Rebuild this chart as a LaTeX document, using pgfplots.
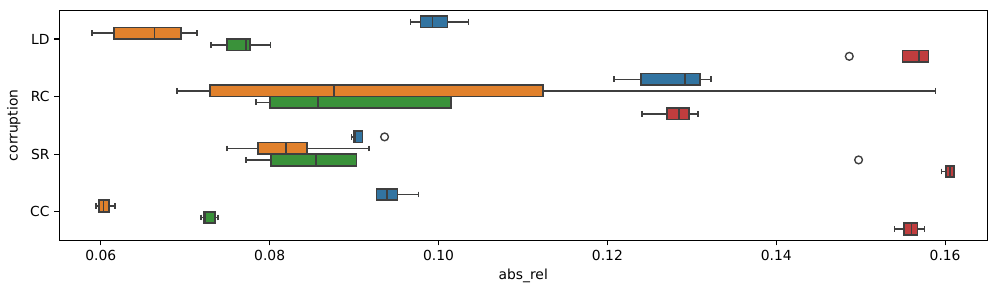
\documentclass[border=0pt]{standalone}
\usepackage{fontspec}
\setmainfont{DejaVu Sans}
\usepackage{pgfplots}
\pgfplotsset{compat=1.18}
\usepgfplotslibrary{statistics}
\definecolor{cblue}{RGB}{50,116,161}
\definecolor{corange}{RGB}{225,129,44}
\definecolor{cgreen}{RGB}{58,146,58}
\definecolor{cred}{RGB}{192,61,62}
\definecolor{lc}{RGB}{63,63,63}
\pgfplotsset{
  bx/.style={draw=lc, line width=1.2pt, solid, mark=none, fill=#1,
    boxplot/every box/.style={draw=lc, line width=1.2pt, fill=#1},
    boxplot/every whisker/.style={draw=lc, line width=1.2pt},
    boxplot/every median/.style={draw=lc, line width=1.2pt}},
}
\begin{document}
\begin{tikzpicture}
\begin{axis}[
  scale only axis, width=669.6pt, height=166.1pt,
  xmin=0.05507, xmax=0.1650, ymin=-0.5, ymax=3.5, y dir=reverse,
  xtick={0.06,0.08,0.10,0.12,0.14,0.16},
  xticklabel style={/pgf/number format/.cd, fixed, fixed zerofill, precision=2},
  ytick={0,1,2,3}, yticklabels={LD,RC,SR,CC},
  xtick pos=lower, ytick pos=left,
  tick align=outside, major tick length=3.5pt,
  tick style={black, line width=0.8pt},
  axis line style={line width=0.8pt},
  font=\fontsize{10}{12}\selectfont,
  /pgf/number format/assume math mode=true,
  xlabel={abs\_rel}, ylabel={corruption},
  xlabel style={at={(axis description cs:0.5,-0.1517)}, anchor=center},
  ylabel style={at={(axis description cs:-0.0488,0.5)}, anchor=center},
  boxplot/draw direction=x,
  clip=false,
]
% LD
\addplot[bx=cblue, boxplot prepared={draw position=-0.3, lower whisker=0.09668, lower quartile=0.09786, median=0.09928, upper quartile=0.10105, upper whisker=0.10353, box extend=0.2, whisker extend=0.1}] coordinates {};
\addplot[bx=corange, boxplot prepared={draw position=-0.1, lower whisker=0.05897, lower quartile=0.06157, median=0.06635, upper quartile=0.06949, upper whisker=0.07138, box extend=0.2, whisker extend=0.1}] coordinates {};
\addplot[bx=cgreen, boxplot prepared={draw position=0.1, lower whisker=0.07304, lower quartile=0.07493, median=0.07718, upper quartile=0.07765, upper whisker=0.08009, box extend=0.2, whisker extend=0.1}] coordinates {};
\addplot[bx=cred, boxplot prepared={draw position=0.3, lower whisker=0.15495, lower quartile=0.15495, median=0.15689, upper quartile=0.15803, upper whisker=0.15803, box extend=0.2, whisker extend=0.1}] coordinates {};
% RC
\addplot[bx=cblue, boxplot prepared={draw position=0.7, lower whisker=0.12079, lower quartile=0.12398, median=0.12918, upper quartile=0.13096, upper whisker=0.13226, box extend=0.2, whisker extend=0.1}] coordinates {};
\addplot[bx=corange, boxplot prepared={draw position=0.9, lower whisker=0.06902, lower quartile=0.07292, median=0.08758, upper quartile=0.11240, upper whisker=0.15885, box extend=0.2, whisker extend=0.1}] coordinates {};
\addplot[bx=cgreen, boxplot prepared={draw position=1.1, lower whisker=0.07836, lower quartile=0.08001, median=0.08569, upper quartile=0.10145, upper whisker=0.10145, box extend=0.2, whisker extend=0.1}] coordinates {};
\addplot[bx=cred, boxplot prepared={draw position=1.3, lower whisker=0.12410, lower quartile=0.12706, median=0.12848, upper quartile=0.12966, upper whisker=0.13072, box extend=0.2, whisker extend=0.1}] coordinates {};
% SR
\addplot[bx=cblue, boxplot prepared={draw position=1.7, lower whisker=0.08970, lower quartile=0.08994, median=0.09010, upper quartile=0.09101, upper whisker=0.09101, box extend=0.2, whisker extend=0.1}] coordinates {};
\addplot[bx=corange, boxplot prepared={draw position=1.9, lower whisker=0.07493, lower quartile=0.07859, median=0.08195, upper quartile=0.08439, upper whisker=0.09176, box extend=0.2, whisker extend=0.1}] coordinates {};
\addplot[bx=cgreen, boxplot prepared={draw position=2.1, lower whisker=0.07718, lower quartile=0.08013, median=0.08545, upper quartile=0.09030, upper whisker=0.09030, box extend=0.2, whisker extend=0.1}] coordinates {};
\addplot[bx=cred, boxplot prepared={draw position=2.3, lower whisker=0.15956, lower quartile=0.16008, median=0.16055, upper quartile=0.16102, upper whisker=0.16102, box extend=0.2, whisker extend=0.1}] coordinates {};
% CC
\addplot[bx=cblue, boxplot prepared={draw position=2.7, lower whisker=0.09266, lower quartile=0.09266, median=0.09389, upper quartile=0.09514, upper whisker=0.09762, box extend=0.2, whisker extend=0.1}] coordinates {};
\addplot[bx=corange, boxplot prepared={draw position=2.9, lower whisker=0.05944, lower quartile=0.05980, median=0.06032, upper quartile=0.06098, upper whisker=0.06169, box extend=0.2, whisker extend=0.1}] coordinates {};
\addplot[bx=cgreen, boxplot prepared={draw position=3.1, lower whisker=0.07190, lower quartile=0.07221, median=0.07241, upper quartile=0.07351, upper whisker=0.07387, box extend=0.2, whisker extend=0.1}] coordinates {};
\addplot[bx=cred, boxplot prepared={draw position=3.3, lower whisker=0.15401, lower quartile=0.15515, median=0.15602, upper quartile=0.15673, upper whisker=0.15755, box extend=0.2, whisker extend=0.1}] coordinates {};
% outliers
\addplot[only marks, mark=o, mark size=2.8pt, mark options={draw=lc, line width=1pt, fill=none}] coordinates {(0.14865,0.3) (0.09361,1.7) (0.14975,2.1)};
\end{axis}
\pgfresetboundingbox
\path (-42.7pt,-38.2pt) rectangle (677.3pt,173.5pt);
\end{tikzpicture}
\end{document}
